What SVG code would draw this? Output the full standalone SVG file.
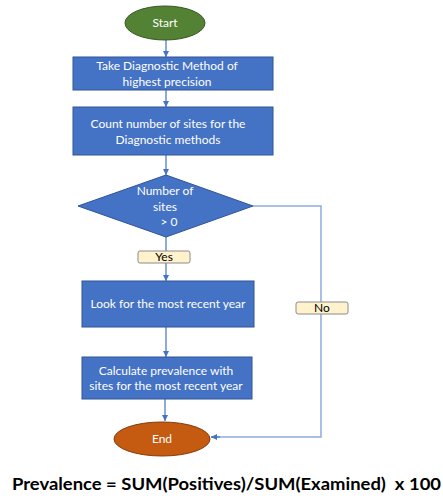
<svg xmlns="http://www.w3.org/2000/svg" width="443" height="498" viewBox="0 0 443 498">
<defs>
<style>
.box{fill:#4472C4;stroke:#2F5597;stroke-width:1}
.t{font-family:Lato,"Liberation Sans",Arial,sans-serif;font-size:12px;fill:#FFFFFF;text-anchor:middle}
.lbl{fill:#FFF2CC;stroke:#8C8C8C;stroke-width:1}
.lt{font-family:Lato,"Liberation Sans",Arial,sans-serif;font-size:12px;fill:#000000;text-anchor:middle}
.c{fill:none;stroke:#4472C4;stroke-width:1.2}
.c2{fill:none;stroke:#8FAADC;stroke-width:1.5}
</style>
<marker id="ah" viewBox="0 0 10 10" refX="10" refY="5" markerWidth="6" markerHeight="6" markerUnits="userSpaceOnUse" orient="auto">
<path d="M0,0 L10,5 L0,10 z" fill="#4472C4"/>
</marker>
</defs>
<rect width="443" height="498" fill="#FFFFFF"/>
<g id="connectors">
<line class="c" x1="166" y1="40" x2="166" y2="57" marker-end="url(#ah)"/>
<line class="c" x1="166" y1="90" x2="166" y2="107" marker-end="url(#ah)"/>
<line class="c" x1="166" y1="155" x2="166" y2="175" marker-end="url(#ah)"/>
<line class="c" x1="166" y1="237" x2="166" y2="281" marker-end="url(#ah)"/>
<line class="c" x1="166" y1="327" x2="166" y2="357" marker-end="url(#ah)"/>
<line class="c" x1="165" y1="399" x2="165" y2="421" marker-end="url(#ah)"/>
<polyline class="c2" points="253,206 321,206 321,437 211,437"/>
<line class="c" x1="220" y1="437" x2="211" y2="437" marker-end="url(#ah)"/>
</g>
<g id="start">
<ellipse cx="165" cy="23" rx="40" ry="17" fill="#548235" stroke="#385723" stroke-width="1"/>
<text class="t" x="165" y="27">Start</text>
</g>
<g id="take-method">
<rect class="box" x="73" y="57" width="200" height="33"/>
<text class="t" x="167" y="70">Take Diagnostic Method of</text>
<text class="t" x="167" y="86">highest precision</text>
</g>
<g id="count-sites">
<rect class="box" x="73" y="107" width="200" height="48"/>
<text class="t" x="168" y="128">Count number of sites for the</text>
<text class="t" x="168" y="144">Diagnostic methods</text>
</g>
<g id="decision">
<polygon points="166,175 253,206 166,237 78,206" fill="#4472C4" stroke="#2F5597" stroke-width="1"/>
<text class="t" x="165" y="195">Number of</text>
<text class="t" x="165" y="211">sites</text>
<text class="t" x="169" y="226">&gt; 0</text>
</g>
<g id="yes-label">
<rect class="lbl" x="138" y="251" width="52" height="12" rx="2"/>
<text class="lt" x="164" y="261">Yes</text>
</g>
<g id="no-label">
<rect class="lbl" x="296" y="302" width="52" height="12" rx="2"/>
<text class="lt" x="322" y="312">No</text>
</g>
<g id="recent-year">
<rect class="box" x="82" y="281" width="172" height="46"/>
<text class="t" x="168" y="308">Look for the most recent year</text>
</g>
<g id="calculate">
<rect class="box" x="82" y="357" width="170" height="42"/>
<text class="t" x="166" y="375">Calculate prevalence with</text>
<text class="t" x="166" y="390">sites for the most recent year</text>
</g>
<g id="end">
<ellipse cx="162" cy="439" rx="48" ry="17" fill="#C55A11" stroke="#843C0C" stroke-width="1"/>
<text class="t" x="162" y="443">End</text>
</g>
<text x="12" y="490" font-family="Lato,Liberation Sans,Arial,sans-serif" font-size="17" font-weight="bold" fill="#000000" textLength="429" lengthAdjust="spacingAndGlyphs">Prevalence = SUM(Positives)/SUM(Examined)&#160; x 100</text>
</svg>
